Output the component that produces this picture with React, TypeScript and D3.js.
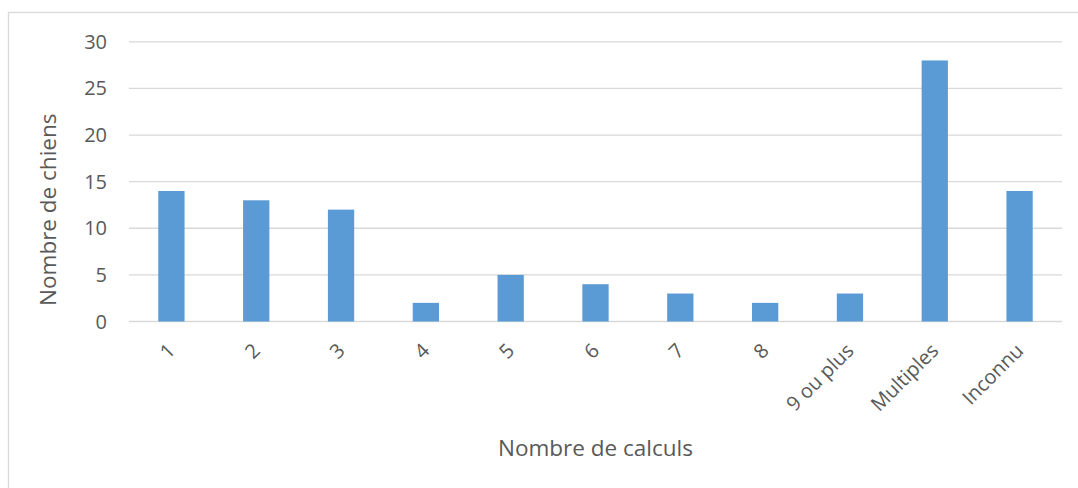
import React from "react";
import * as d3 from "d3";

const categories = ["1", "2", "3", "4", "5", "6", "7", "8", "9 ou plus", "Multiples", "Inconnu"];
const values = [14, 13, 12, 2, 5, 4, 3, 2, 3, 28, 14];
const yTicks = [0, 5, 10, 15, 20, 25, 30];

const W = 1078;
const H = 488;
const plot = { left: 129, right: 1062, top: 41.8, bottom: 321.5 };
const font = "'Open Sans', sans-serif";
const textColor = "#595959";

export default function App() {
  const x = d3
    .scaleBand<string>()
    .domain(categories)
    .range([plot.left, plot.right])
    .paddingInner(0.69)
    .paddingOuter(0.345);
  const y = d3.scaleLinear().domain([0, 30]).range([plot.bottom, plot.top]);

  return (
    <svg
      width={W}
      height={H}
      style={{ position: "absolute", left: 0, top: 0, background: "#fff" }}
    >
      <rect x={8.5} y={12.5} width={W + 10} height={H + 10} fill="#fff" stroke="#d9d9d9" strokeWidth={1.3} />
      {yTicks.map((t) => (
        <g key={t}>
          <line
            x1={plot.left}
            x2={plot.right}
            y1={y(t)}
            y2={y(t)}
            stroke="#d9d9d9"
            strokeWidth={t === 0 ? 1.6 : 1.3}
          />
          <text
            x={107}
            y={y(t)}
            dy="0.35em"
            textAnchor="end"
            fontFamily={font}
            fontSize={20}
            fill={textColor}
          >
            {t}
          </text>
        </g>
      ))}
      {categories.map((c, i) => (
        <rect
          key={c}
          x={x(c)!}
          y={y(values[i])}
          width={x.bandwidth()}
          height={y(0) - y(values[i])}
          fill="#5B9BD5"
        />
      ))}
      {categories.map((c) => {
        const cx = x(c)! + x.bandwidth() / 2;
        return (
          <text
            key={c}
            transform={`translate(${cx + 5},${352}) rotate(-45)`}
            textAnchor="end"
            fontFamily={font}
            fontSize={20}
            fill={textColor}
          >
            {c}
          </text>
        );
      })}
      <text
        transform={`translate(56,209.7) rotate(-90)`}
        textAnchor="middle"
        fontFamily={font}
        fontSize={22.5}
        fill={textColor}
      >
        Nombre de chiens
      </text>
      <text
        x={595.5}
        y={456}
        textAnchor="middle"
        fontFamily={font}
        fontSize={22.5}
        fill={textColor}
      >
        Nombre de calculs
      </text>
    </svg>
  );
}
